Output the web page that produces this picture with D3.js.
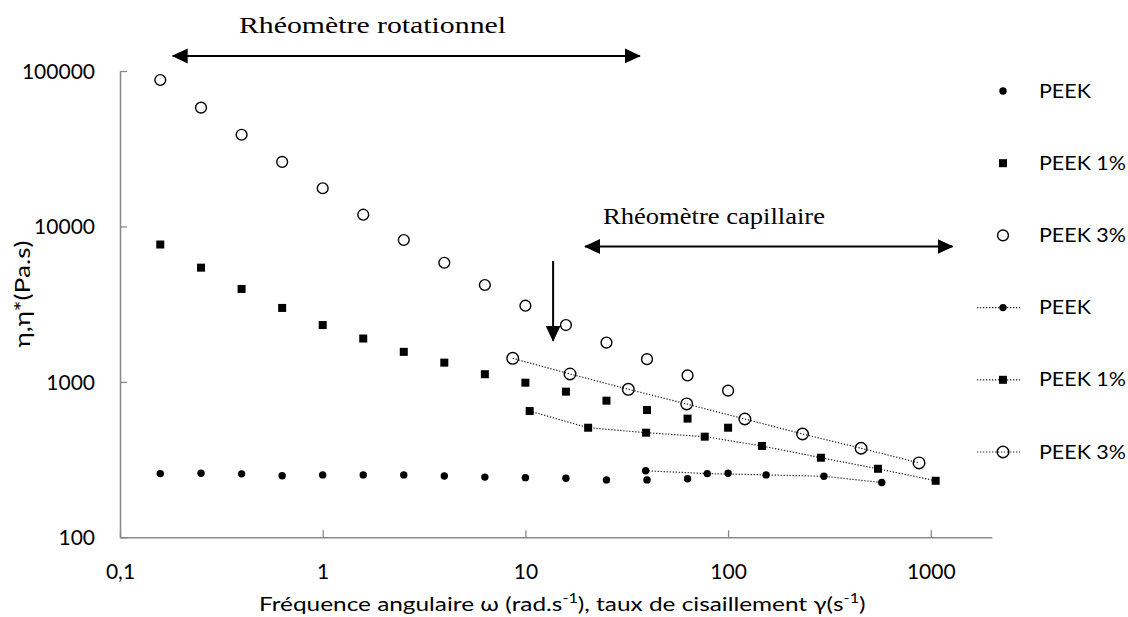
<!DOCTYPE html>
<html>
<head>
<meta charset="utf-8">
<script src="https://cdn.jsdelivr.net/npm/d3@7"></script>
<style>
  html, body { margin: 0; padding: 0; background: #fff; }
  svg { display: block; }
  .sans { font-family: Lato, "Liberation Sans", sans-serif; fill: #000; }
  .serif { font-family: "Liberation Serif", "DejaVu Serif", serif; fill: #000; }
</style>
</head>
<body>
<svg id="chart" width="1128" height="617"></svg>
<script>
// Rotational rheometer: angular frequency (rad/s)
const freqRot = [0.158, 0.251, 0.398, 0.631, 1, 1.585, 2.512, 3.981, 6.31, 10, 15.85, 25.12, 39.81, 63.1, 100];
const peekRot = [257, 258, 256, 249, 252, 252, 252, 248, 244, 242, 240, 234, 234, 238, 258];
const peek1Rot = [7650, 5430, 3960, 2990, 2320, 1900, 1560, 1330, 1120, 988, 865, 757, 659, 580, 507];
const peek3Rot = [87500, 58100, 38900, 26000, 17600, 11900, 8180, 5840, 4200, 3090, 2320, 1790, 1400, 1100, 878];

// Capillary rheometer: shear rate (1/s)
const rateCapPeek = [39.2, 78.9, 154, 297, 573];
const peekCap = [268, 257, 252, 247, 225];
const rateCapPeek1 = [10.5, 20.4, 39.4, 76.7, 147, 287, 549, 1057];
const peek1Cap = [649, 507, 471, 444, 387, 325, 276, 231];
const rateCapPeek3 = [8.66, 16.6, 32.2, 62.5, 121, 233, 453, 875];
const peek3Cap = [1418, 1124, 896, 721, 577, 462, 374, 301];

// Axis ticks
const xMajor = [0.1, 1, 10, 100, 1000];
const xMajorLabels = ["0,1", "1", "10", "100", "1000"];
const yMajor = [100, 1000, 10000, 100000];
const yMajorLabels = ["100", "1000", "10000", "100000"];

// Legend entries
const legendLabels = ["PEEK", "PEEK 1%", "PEEK 3%", "PEEK", "PEEK 1%", "PEEK 3%"];
const legendSymbols = ["dot", "square", "circle", "dot", "square", "circleOpen"];
const legendLined = [false, false, false, true, true, true];

// Measurement ranges (data units)
const rotRange = [0.182, 36.7];
const rotRangeY = 125000;
const capRange = [19.7, 1280];
const capRangeY = 7420;
const transitionX = 13.7;
const transitionY = [6000, 1840];

const svg = d3.select("#chart");
const x = d3.scaleLog().domain([0.1, 2000]).range([120, 991.8]);
const y = d3.scaleLog().domain([100, 100000]).range([537.3, 71]);

const axisColor = "#8a8a8a";

function minorTicks(scale) {
  const [a, b] = scale.domain();
  const out = [];
  for (let p = Math.floor(Math.log10(a)); p <= Math.ceil(Math.log10(b)); p++) {
    for (let m = 2; m <= 9; m++) {
      const v = m * Math.pow(10, p);
      if (v >= a * 0.9999 && v <= b * 1.0001) out.push(v);
    }
  }
  return out;
}

// X axis
const gx = svg.append("g").attr("transform", `translate(0,${y(100)})`);
gx.call(d3.axisBottom(x).tickValues(minorTicks(x)).tickSize(-5).tickSizeOuter(0).tickFormat(""));
gx.call(d3.axisBottom(x).tickValues(xMajor).tickSize(-7).tickSizeOuter(0)
  .tickFormat((d, i) => xMajorLabels[i]));
gx.selectAll("path.domain").attr("stroke", axisColor).attr("stroke-width", 1.6);
gx.selectAll(".tick line").attr("stroke", axisColor).attr("stroke-width", 1.3);
gx.selectAll(".tick text").attr("class", "sans").attr("font-size", 21)
  .attr("y", 42).attr("dy", 0).attr("fill", "#000");
gx.attr("font-family", null).attr("font-size", null);

// Y axis
const gy = svg.append("g").attr("transform", `translate(${x(0.1)},0)`);
gy.call(d3.axisLeft(y).tickValues(minorTicks(y)).tickSize(-5).tickSizeOuter(0).tickFormat(""));
gy.call(d3.axisLeft(y).tickValues(yMajor).tickSize(-7).tickSizeOuter(0)
  .tickFormat((d, i) => yMajorLabels[i]));
gy.selectAll("path.domain").attr("stroke", axisColor).attr("stroke-width", 1.6);
gy.selectAll(".tick line").attr("stroke", axisColor).attr("stroke-width", 1.3);
gy.selectAll(".tick text").attr("class", "sans").attr("font-size", 21)
  .attr("x", -25).attr("dy", "0.36em").attr("fill", "#000");
gy.attr("font-family", null).attr("font-size", null);

// Axis titles
const xt = svg.append("text").attr("class", "sans").attr("font-size", 19.5)
  .attr("transform", "translate(259,611) scale(1.25,1)");
xt.append("tspan").text("Fréquence angulaire ω (rad.s");
xt.append("tspan").attr("font-size", 13).attr("dy", -8).text("-1");
xt.append("tspan").attr("dy", 8).text("), taux de cisaillement γ(s");
xt.append("tspan").attr("font-size", 13).attr("dy", -8).text("-1");
xt.append("tspan").attr("dy", 8).text(")");

svg.append("text").attr("class", "sans").attr("font-size", 21)
  .attr("text-anchor", "middle")
  .attr("transform", "translate(30,294) rotate(-90) scale(1.25,1)")
  .text("η,η*(Pa.s)");

// Symbol drawing
function drawSymbol(g, kind, cx, cy) {
  if (kind === "dot") {
    g.append("circle").attr("cx", cx).attr("cy", cy).attr("r", 3.7).attr("fill", "#000");
  } else if (kind === "square") {
    g.append("rect").attr("x", cx - 4).attr("y", cy - 4).attr("width", 8).attr("height", 8).attr("fill", "#000");
  } else if (kind === "circle") {
    g.append("circle").attr("cx", cx).attr("cy", cy).attr("r", 5.4)
      .attr("fill", "#fff").attr("stroke", "#000").attr("stroke-width", 1.4);
  } else {
    g.append("circle").attr("cx", cx).attr("cy", cy).attr("r", 5.8)
      .attr("fill", "none").attr("stroke", "#000").attr("stroke-width", 1.4);
  }
}

const dotted = { stroke: "#222", width: 1.2, dash: "1.3,1.7" };
const line = d3.line().x(d => x(d[0])).y(d => y(d[1]));

// Capillary series with dotted connecting lines
const capSeries = [
  { xs: rateCapPeek, ys: peekCap, kind: "dot" },
  { xs: rateCapPeek1, ys: peek1Cap, kind: "square" },
  { xs: rateCapPeek3, ys: peek3Cap, kind: "circleOpen" }
];
const capG = svg.append("g");
capSeries.forEach(s => {
  const pts = s.xs.map((v, i) => [v, s.ys[i]]);
  capG.append("path").attr("d", line(pts)).attr("fill", "none")
    .attr("stroke", dotted.stroke).attr("stroke-width", dotted.width)
    .attr("stroke-dasharray", dotted.dash);
});

// Rotational series (markers only)
const rotSeries = [
  { ys: peekRot, kind: "dot" },
  { ys: peek1Rot, kind: "square" },
  { ys: peek3Rot, kind: "circle" }
];
const rotG = svg.append("g");
rotSeries.forEach(s => {
  freqRot.forEach((f, i) => drawSymbol(rotG, s.kind, x(f), y(s.ys[i])));
});

capSeries.forEach(s => {
  s.xs.forEach((v, i) => drawSymbol(capG, s.kind, x(v), y(s.ys[i])));
});
capG.raise();

// Arrows
const defs = svg.append("defs");
defs.append("marker").attr("id", "head").attr("viewBox", "0 0 16 16")
  .attr("refX", 15).attr("refY", 8).attr("markerWidth", 16).attr("markerHeight", 16)
  .attr("markerUnits", "userSpaceOnUse").attr("orient", "auto-start-reverse")
  .append("path").attr("d", "M0,0.5 L16,8 L0,15.5 Z").attr("fill", "#000");

const annG = svg.append("g");
annG.append("line")
  .attr("x1", x(rotRange[0])).attr("x2", x(rotRange[1]))
  .attr("y1", y(rotRangeY)).attr("y2", y(rotRangeY))
  .attr("stroke", "#000").attr("stroke-width", 2)
  .attr("marker-start", "url(#head)").attr("marker-end", "url(#head)");
annG.append("line")
  .attr("x1", x(capRange[0])).attr("x2", x(capRange[1]))
  .attr("y1", y(capRangeY)).attr("y2", y(capRangeY))
  .attr("stroke", "#000").attr("stroke-width", 2)
  .attr("marker-start", "url(#head)").attr("marker-end", "url(#head)");
annG.append("line")
  .attr("x1", x(transitionX)).attr("x2", x(transitionX))
  .attr("y1", y(transitionY[0])).attr("y2", y(transitionY[1]))
  .attr("stroke", "#000").attr("stroke-width", 2)
  .attr("marker-end", "url(#head)");

annG.append("text").attr("class", "serif").attr("font-size", 24)
  .attr("x", 239).attr("y", 33)
  .attr("textLength", 267).attr("lengthAdjust", "spacingAndGlyphs")
  .text("Rhéomètre rotationnel");
annG.append("text").attr("class", "serif").attr("font-size", 22.5)
  .attr("x", 603).attr("y", 224)
  .attr("textLength", 222).attr("lengthAdjust", "spacingAndGlyphs")
  .text("Rhéomètre capillaire");

// Legend
const legG = svg.append("g");
legendLabels.forEach((lab, i) => {
  const cy = 91 + i * 72.2;
  if (legendLined[i]) {
    legG.append("line").attr("x1", 977).attr("x2", 1020).attr("y1", cy).attr("y2", cy)
      .attr("stroke", dotted.stroke).attr("stroke-width", dotted.width)
      .attr("stroke-dasharray", dotted.dash);
  }
  drawSymbol(legG, legendSymbols[i], 1003, cy);
  legG.append("text").attr("class", "sans").attr("font-size", 18.5)
    .attr("transform", `translate(1039,${cy}) scale(1.16,1)`)
    .attr("dy", "0.36em").text(lab);
});
</script>
</body>
</html>
